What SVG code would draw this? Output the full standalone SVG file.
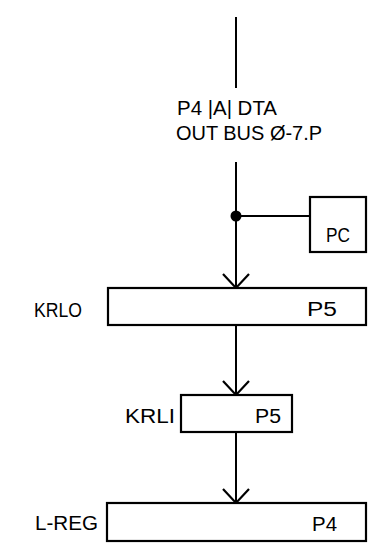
<svg xmlns="http://www.w3.org/2000/svg" width="376" height="550" viewBox="0 0 376 550">
<style>
.box{fill:#fff;stroke:#000;stroke-width:2.2}
.wire{fill:none;stroke:#000;stroke-width:2}
text{font-family:"Liberation Sans","DejaVu Sans",sans-serif;font-size:20px;fill:#000}
</style>
<defs>
<marker id="v" markerUnits="userSpaceOnUse" markerWidth="32" markerHeight="32" refX="16" refY="16" orient="auto" viewBox="0 0 32 32">
<path d="M2,3 L16,16 L2,29" fill="none" stroke="#000" stroke-width="2.2"/>
</marker>
</defs>
<rect width="376" height="550" fill="#fff"/>
<g id="connectors">
<line class="wire" x1="236" y1="17" x2="236" y2="88"/>
<line class="wire" x1="236" y1="162" x2="236" y2="288" marker-end="url(#v)"/>
<line class="wire" x1="236" y1="216" x2="310" y2="216"/>
<circle cx="236" cy="216" r="5.5" fill="#000"/>
<line class="wire" x1="236" y1="325" x2="236" y2="395" marker-end="url(#v)"/>
<line class="wire" x1="236" y1="432" x2="236" y2="503" marker-end="url(#v)"/>
</g>
<g id="bus-label">
<text x="177" y="115" textLength="100" lengthAdjust="spacingAndGlyphs">P4 |A| DTA</text>
<text x="176" y="140" textLength="146" lengthAdjust="spacingAndGlyphs">OUT BUS Ø-7.P</text>
</g>
<g id="pc">
<rect class="box" x="310" y="197" width="56" height="55"/>
<text x="326" y="242" textLength="24" lengthAdjust="spacingAndGlyphs">PC</text>
</g>
<g id="krlo">
<rect class="box" x="108" y="288" width="258" height="37"/>
<text x="34" y="317" textLength="48" lengthAdjust="spacingAndGlyphs">KRLO</text>
<text x="307" y="316" textLength="30" lengthAdjust="spacingAndGlyphs">P5</text>
</g>
<g id="krli">
<rect class="box" x="181" y="395" width="111" height="37"/>
<text x="125" y="423" textLength="50" lengthAdjust="spacingAndGlyphs">KRLI</text>
<text x="255" y="423" textLength="26" lengthAdjust="spacingAndGlyphs">P5</text>
</g>
<g id="lreg">
<rect class="box" x="107" y="503" width="259" height="38"/>
<text x="35" y="530" textLength="63" lengthAdjust="spacingAndGlyphs">L-REG</text>
<text x="312" y="531" textLength="25" lengthAdjust="spacingAndGlyphs">P4</text>
</g>
</svg>
